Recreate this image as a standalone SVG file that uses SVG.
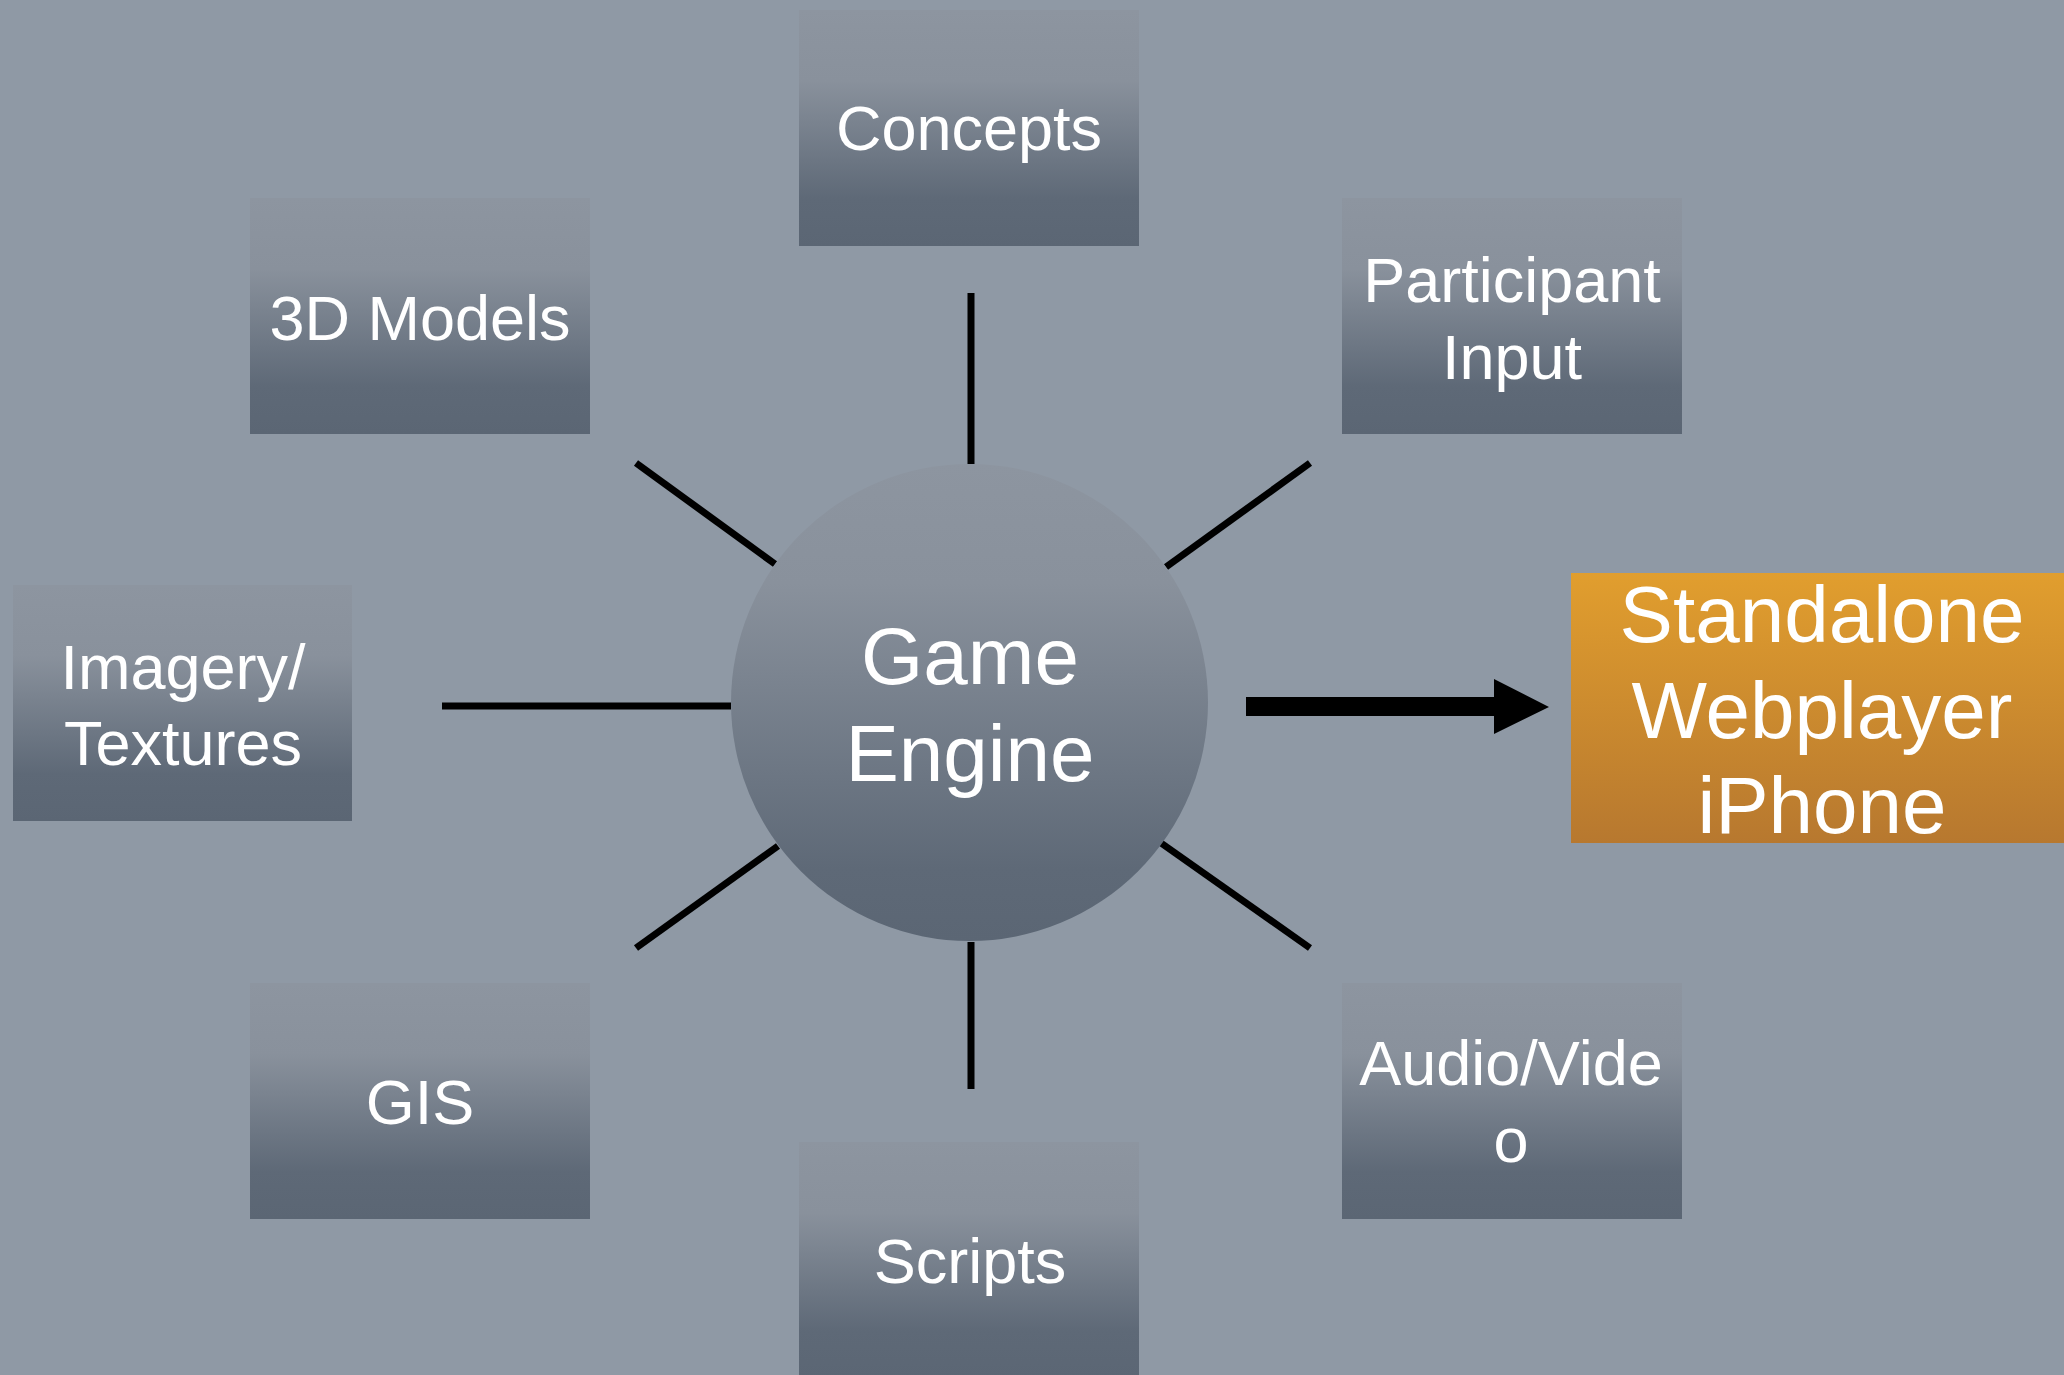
<svg xmlns="http://www.w3.org/2000/svg" width="2064" height="1375" viewBox="0 0 2064 1375">
  <defs>
    <linearGradient id="boxGrad" x1="0" y1="0" x2="0" y2="1">
      <stop offset="0" stop-color="#8D95A0"/>
      <stop offset="0.3" stop-color="#89919C"/>
      <stop offset="0.8" stop-color="#5E6977"/>
      <stop offset="1" stop-color="#5B6674"/>
    </linearGradient>
    <linearGradient id="circGrad" x1="0" y1="0" x2="0" y2="1">
      <stop offset="0" stop-color="#8D95A0"/>
      <stop offset="0.25" stop-color="#89919C"/>
      <stop offset="0.85" stop-color="#5E6977"/>
      <stop offset="1" stop-color="#5B6674"/>
    </linearGradient>
    <linearGradient id="orangeGrad" x1="0" y1="0" x2="0" y2="1">
      <stop offset="0" stop-color="#E19E2E"/>
      <stop offset="1" stop-color="#B7782F"/>
    </linearGradient>
    <style>
      .box { fill: url(#boxGrad); }
      .lbl { font-family: "Liberation Sans", Arial, sans-serif; font-size: 63px; fill: #FFFFFF; text-anchor: middle; }
      .big { font-family: "Liberation Sans", Arial, sans-serif; font-size: 80px; fill: #FFFFFF; text-anchor: middle; }
      .out { font-family: "Liberation Sans", Arial, sans-serif; font-size: 80px; fill: #FFFFFF; text-anchor: middle; }
      .conn { stroke: #000000; stroke-width: 7; fill: none; }
    </style>
  </defs>
  <rect x="0" y="0" width="2064" height="1375" fill="#8F99A5"/>

  <g id="connectors">
    <line class="conn" x1="971" y1="293" x2="971" y2="464"/>
    <line class="conn" x1="971" y1="942" x2="971" y2="1089"/>
    <line class="conn" x1="442" y1="706" x2="731" y2="706"/>
    <line class="conn" x1="636" y1="463" x2="775" y2="564"/>
    <line class="conn" x1="1310" y1="463" x2="1166" y2="567"/>
    <line class="conn" x1="778" y1="846" x2="636" y2="948"/>
    <line class="conn" x1="1161" y1="843" x2="1310" y2="948"/>
    <path d="M1246,697 L1494,697 L1494,679 L1549,707 L1494,734 L1494,716 L1246,716 Z" fill="#000000"/>
  </g>

  <g id="game-engine">
    <circle cx="969.5" cy="702.5" r="238.5" fill="url(#circGrad)"/>
    <text class="big" x="970" y="684">Game</text>
    <text class="big" x="970" y="781">Engine</text>
  </g>

  <g id="concepts">
    <rect class="box" x="799" y="10" width="340" height="236"/>
    <text class="lbl" x="969" y="150">Concepts</text>
  </g>

  <g id="models-3d">
    <rect class="box" x="250" y="198" width="340" height="236"/>
    <text class="lbl" x="420" y="340">3D Models</text>
  </g>

  <g id="participant-input">
    <rect class="box" x="1342" y="198" width="340" height="236"/>
    <text class="lbl" x="1512" y="302">Participant</text>
    <text class="lbl" x="1512" y="379">Input</text>
  </g>

  <g id="imagery-textures">
    <rect class="box" x="13" y="585" width="339" height="236"/>
    <text class="lbl" x="183" y="689">Imagery/</text>
    <text class="lbl" x="183" y="765">Textures</text>
  </g>

  <g id="gis">
    <rect class="box" x="250" y="983" width="340" height="236"/>
    <text class="lbl" x="420" y="1124">GIS</text>
  </g>

  <g id="scripts">
    <rect class="box" x="799" y="1142" width="340" height="236"/>
    <text class="lbl" x="970" y="1283">Scripts</text>
  </g>

  <g id="audio-video">
    <rect class="box" x="1342" y="983" width="340" height="236"/>
    <text class="lbl" x="1511" y="1085">Audio/Vide</text>
    <text class="lbl" x="1511" y="1162">o</text>
  </g>

  <g id="output-platforms">
    <rect x="1571" y="573" width="493" height="270" fill="url(#orangeGrad)"/>
    <text class="out" x="1822" y="642">Standalone</text>
    <text class="out" x="1822" y="738">Webplayer</text>
    <text class="out" x="1822" y="833">iPhone</text>
  </g>
</svg>
